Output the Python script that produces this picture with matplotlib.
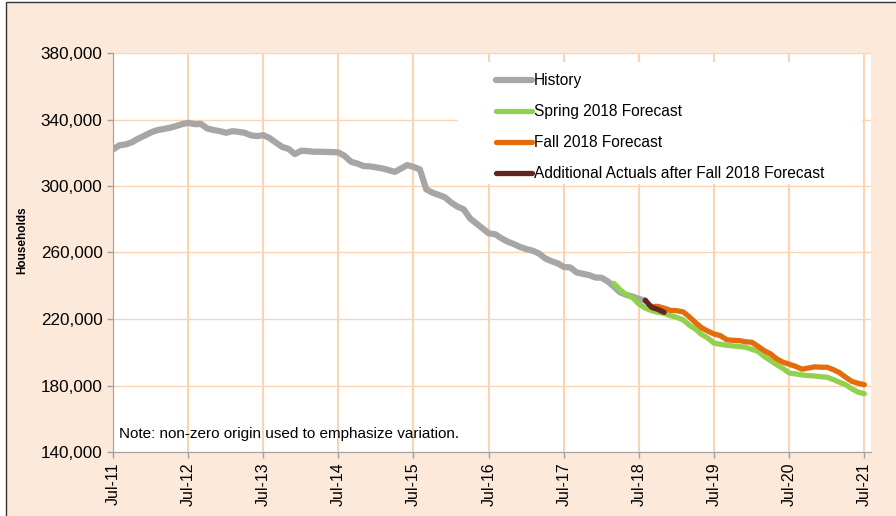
import numpy as np
import pandas as pd
import matplotlib
matplotlib.use('Agg')
import matplotlib.pyplot as plt
from matplotlib.patches import Rectangle
from matplotlib.ticker import FuncFormatter

plt.rcParams['font.family'] = ['Liberation Sans', 'DejaVu Sans']

# monthly dates, Jul-11 .. Jul-21
months = pd.date_range('2011-07-01', '2021-07-01', freq='MS')

# households (thousands)
history = [322.0, 324.5, 325.0, 326.3, 328.5, 330.3, 332.2, 333.6, 334.2, 335.0, 336.0, 337.2,
           338.0, 337.2, 337.3, 334.6, 333.7, 333.0, 332.0, 333.0, 332.6, 332.0, 330.5, 330.0,
           330.6, 328.8, 326.0, 323.5, 322.3, 319.2, 321.2, 321.0, 320.6, 320.6, 320.5, 320.4,
           320.2, 318.0, 314.5, 313.5, 312.0, 311.8, 311.2, 310.5, 309.6, 308.5, 310.5, 312.6,
           311.5, 310.0, 298.0, 296.0, 294.6, 293.2, 290.0, 287.5, 286.0, 280.5, 277.5, 274.5,
           271.5, 271.0, 268.5, 266.5, 265.0, 263.3, 262.0, 261.0, 259.5, 256.5, 254.8, 253.5,
           251.3, 251.0, 248.0, 247.2, 246.4, 245.0, 244.8, 242.5, 239.5, 236.0, 234.5, 233.5,
           232.0, 231.2]
spring = [241.5, 237.5, 234.5, 232.8, 229.0, 226.5, 225.0, 224.0, 223.4, 222.0,
          221.0, 219.5, 216.5, 214.0, 210.8, 208.5, 205.5, 204.8, 204.2, 203.8,
          203.5, 203.0, 201.8, 200.5, 197.5, 195.0, 192.5, 190.2, 187.5, 187.0,
          186.3, 186.0, 185.7, 185.3, 185.0, 183.5, 182.0, 180.5, 178.0, 176.0,
          175.0]
fall = [227.5, 227.6, 226.5, 225.2, 225.0, 224.3, 221.5, 218.0, 214.8, 212.7,
        211.0, 210.0, 207.5, 207.2, 207.0, 206.3, 206.0, 203.5, 201.0, 199.0,
        196.0, 194.0, 192.8, 191.5, 189.8, 190.5, 191.2, 191.0, 191.0, 189.5,
        187.8, 185.0, 182.5, 181.3, 180.5]
actuals = [231.2, 227.0, 225.8, 224.0]

labels = ['History', 'Spring 2018 Forecast', 'Fall 2018 Forecast',
          'Additional Actuals after Fall 2018 Forecast']

peach = '#FDE9D9'
grid_col = '#FBD4B4'

fig = plt.figure(figsize=(8.96, 5.16), dpi=100, facecolor='white')
fig.add_artist(Rectangle((5.5 / 896, -0.05), 1.0, 1 - 2.5 / 516 + 0.05,
                         transform=fig.transFigure, facecolor=peach,
                         edgecolor='#333333', lw=1, zorder=-1))

ax = fig.add_axes([113 / 896, 1 - 452 / 516, (870.7 - 113) / 896, (452 - 53) / 516])
ax.set_facecolor('white')

h = np.array(history) * 1000
s = np.array(spring) * 1000
f = np.array(fall) * 1000
a = np.array(actuals) * 1000

ax.plot(months[:len(h)], h, color='#A6A6A6', lw=4.5, solid_capstyle='round', label=labels[0], zorder=3)
ax.plot(months[80:80 + len(s)], s, color='#92D050', lw=3.8, solid_capstyle='round', label=labels[1], zorder=4)
ax.plot(months[86:86 + len(f)], f, color='#E46C0A', lw=3.8, solid_capstyle='round', label=labels[2], zorder=5)
ax.plot(months[85:85 + len(a)], a, color='#632523', lw=3.8, solid_capstyle='round', label=labels[3], zorder=6)

ax.set_xlim(months[0], pd.Timestamp('2021-08-01'))
ax.set_ylim(140000, 380000)
ax.set_yticks(np.arange(140000, 380001, 40000))
ax.yaxis.set_major_formatter(FuncFormatter(lambda v, p: f'{int(v):,}'))
ax.set_xticks(months[::12])
ax.set_xticklabels([d.strftime('%b-%y') for d in months[::12]], rotation=90)
ax.tick_params(axis='both', color='#A0A0A0', length=4, width=1)
ax.tick_params(axis='x', labelsize=11.5)
ax.tick_params(axis='y', labelsize=12.3)
ax.minorticks_off()

ax.set_axisbelow(True)
ax.grid(axis='x', color=grid_col, lw=1.5)
ax.grid(axis='y', color=grid_col, lw=1.0)
for side in ['top', 'right']:
    ax.spines[side].set_visible(False)
for side in ['left', 'bottom']:
    ax.spines[side].set_color('#A0A0A0')

ax.set_ylabel('Households', fontweight='bold', fontsize=8.5)
ax.yaxis.set_label_coords((28 - 113) / 757.7, 0.53)

# white box behind the legend
ax.add_patch(Rectangle((0.4553, 0.6717), 0.5332, 0.3058, transform=ax.transAxes,
                       facecolor='white', edgecolor='none', zorder=1))
ax.legend(loc='upper left', bbox_to_anchor=(0.5055, 0.95), frameon=False, fontsize=11.2,
          handlelength=2.3, handletextpad=0.15, labelspacing=1.03,
          borderpad=0, borderaxespad=0)

ax.text(0.008, 0.045, 'Note: non-zero origin used to emphasize variation.',
        transform=ax.transAxes, fontsize=11, va='center')

fig.savefig('out.png', dpi=100, facecolor=fig.get_facecolor())
